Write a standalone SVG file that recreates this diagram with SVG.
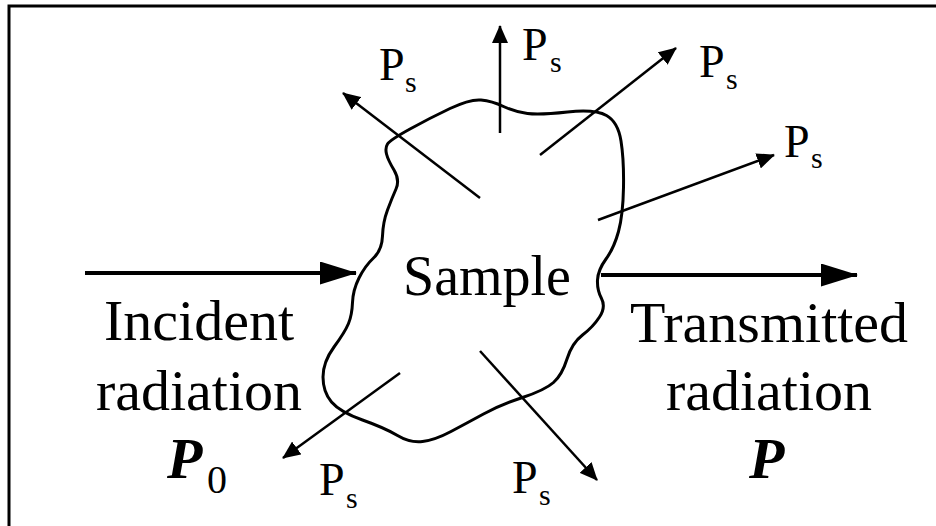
<svg xmlns="http://www.w3.org/2000/svg" width="936" height="526" viewBox="0 0 936 526">
<defs>
<style>
.big{font-size:58px}
.p{font-size:46px}
.s{font-size:30px}
.pi{font-size:58px;font-style:italic;font-weight:bold}
.thin{stroke:#000;stroke-width:2.5;fill:none}
.thick{stroke:#000;stroke-width:4;fill:none}
</style>
<marker id="ah" markerUnits="userSpaceOnUse" markerWidth="18" markerHeight="16" refX="17" refY="8" orient="auto">
<path d="M0,0 L18,8 L0,16 Z" fill="#000"/>
</marker>
<marker id="ahb" markerUnits="userSpaceOnUse" markerWidth="37" markerHeight="23" refX="36" refY="11.5" orient="auto">
<path d="M0,0 L37,11.5 L0,23 Z" fill="#000"/>
</marker>
</defs>
<rect width="936" height="526" fill="#fff"/>
<g id="frame">
<path d="M9,526 L9,6 L936,6" fill="none" stroke="#000" stroke-width="3"/>
</g>
<g font-family="Liberation Serif" fill="#000">
<g id="sample">
<path d="M 410,129 Q 430,118 450,108.5 Q 470,99 481,100 Q 492,101 503.5,106.5 Q 515,112 527.5,113.5 Q 540,115 567.5,112 Q 595,109 606.5,115.5 Q 618,122 621,141 Q 624,160 623.5,187.5 Q 623,215 618.5,231.5 Q 614,248 606,259 Q 598,270 597.5,280 Q 597,290 601.5,298.5 Q 606,307 599.5,317 Q 593,327 582.5,335 Q 572,343 567,359 Q 562,375 553.5,382.5 Q 545,390 522.5,397.5 Q 500,405 483.5,414 Q 467,423 451,431.5 Q 435,440 422.5,441.5 Q 410,443 397.5,435.5 Q 385,428 362.5,420 Q 340,412 331.5,402 Q 323,392 323,377 Q 323,362 334,347 Q 345,332 348.5,323.5 Q 352,315 352.5,302.5 Q 353,290 359,278 Q 365,266 373.5,258 Q 382,250 382.5,236 Q 383,222 387.5,210 Q 392,198 396,189 Q 400,180 394,170 Q 388,160 386.5,154 Q 385,148 387.5,144 Q 390,140 410,129 Z" fill="none" stroke="#000" stroke-width="3"/>
<text x="403" y="295" font-size="56">Sample</text>
</g>
<g id="connectors">
<line class="thick" x1="85" y1="273" x2="356" y2="273" marker-end="url(#ahb)"/>
<line class="thick" x1="601" y1="275" x2="857" y2="275" marker-end="url(#ahb)"/>
<line class="thin" x1="480" y1="198" x2="343" y2="93" marker-end="url(#ah)"/>
<line class="thin" x1="500" y1="133" x2="500" y2="26" marker-end="url(#ah)"/>
<line class="thin" x1="540" y1="155" x2="676" y2="48" marker-end="url(#ah)"/>
<line class="thin" x1="598" y1="220" x2="774" y2="155" marker-end="url(#ah)"/>
<line class="thin" x1="400" y1="373" x2="283" y2="458" marker-end="url(#ah)"/>
<line class="thin" x1="480" y1="351" x2="597" y2="480" marker-end="url(#ah)"/>
</g>
<g id="incident">
<text class="big" x="199" y="340" text-anchor="middle">Incident</text>
<text class="big" x="199" y="410" text-anchor="middle">radiation</text>
<text class="pi" x="167" y="478">P</text>
<text x="207" y="493" font-size="40">0</text>
</g>
<g id="transmitted">
<text class="big" x="769" y="342" text-anchor="middle">Transmitted</text>
<text class="big" x="769" y="410" text-anchor="middle">radiation</text>
<text class="pi" x="749" y="478">P</text>
</g>
<g id="labels">
<text class="p" x="379" y="80">P</text><text class="s" x="405" y="92">s</text>
<text class="p" x="522" y="60">P</text><text class="s" x="550" y="72">s</text>
<text class="p" x="699" y="77">P</text><text class="s" x="726" y="89">s</text>
<text class="p" x="784" y="157">P</text><text class="s" x="811" y="168">s</text>
<text class="p" x="319" y="495">P</text><text class="s" x="346" y="508">s</text>
<text class="p" x="512" y="493">P</text><text class="s" x="539" y="505">s</text>
</g>
</g>
</svg>
